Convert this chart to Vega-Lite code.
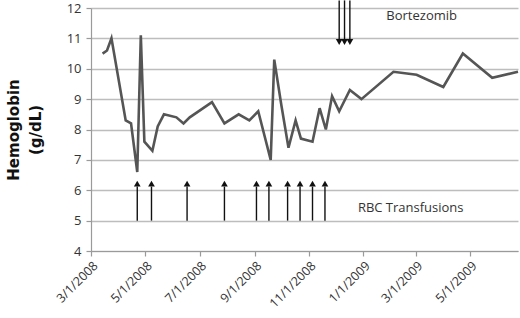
{
  "$schema": "https://vega.github.io/schema/vega-lite/v6.json",
  "width": 427,
  "height": 243,
  "autosize": "none",
  "padding": {"left": 91, "top": 8, "right": 2, "bottom": 67},
  "background": "white",
  "config": {
    "view": {"stroke": null},
    "font": "Open Sans",
    "axis": {"labelFont": "Open Sans", "titleFont": "DejaVu Sans", "labelColor": "#333333", "domainColor": "#9a9a9a", "tickColor": "#9a9a9a", "gridColor": "#bdbdbd", "gridWidth": 1.3, "domainWidth": 1.2, "tickWidth": 1.2},
    "axisY": {
      "titleFontSize": 15,
      "titleFontWeight": "bold",
      "titleColor": "#111111",
      "titlePadding": 23,
      "titleLineHeight": 22,
      "labelOverlap": false,
      "labelFontSize": 13,
      "labelColor": "#333333",
      "tickSize": 5,
      "labelPadding": 5,
      "grid": true
    }
  },
  "datasets": {
    "hb": [
      {"date": "2008-03-14T00:00:00", "hb": 10.5},
      {"date": "2008-03-19T00:00:00", "hb": 10.6},
      {"date": "2008-03-24T00:00:00", "hb": 11.0},
      {"date": "2008-04-09T00:00:00", "hb": 8.3},
      {"date": "2008-04-15T00:00:00", "hb": 8.2},
      {"date": "2008-04-22T00:00:00", "hb": 6.6},
      {"date": "2008-04-26T00:00:00", "hb": 11.1},
      {"date": "2008-04-30T00:00:00", "hb": 7.6},
      {"date": "2008-05-09T00:00:00", "hb": 7.3},
      {"date": "2008-05-15T00:00:00", "hb": 8.1},
      {"date": "2008-05-22T00:00:00", "hb": 8.5},
      {"date": "2008-06-05T00:00:00", "hb": 8.4},
      {"date": "2008-06-13T00:00:00", "hb": 8.2},
      {"date": "2008-06-20T00:00:00", "hb": 8.4},
      {"date": "2008-07-15T00:00:00", "hb": 8.9},
      {"date": "2008-07-29T00:00:00", "hb": 8.2},
      {"date": "2008-08-14T00:00:00", "hb": 8.5},
      {"date": "2008-08-26T00:00:00", "hb": 8.3},
      {"date": "2008-09-05T00:00:00", "hb": 8.6},
      {"date": "2008-09-19T00:00:00", "hb": 7.0},
      {"date": "2008-09-23T00:00:00", "hb": 10.3},
      {"date": "2008-10-01T00:00:00", "hb": 8.8},
      {"date": "2008-10-09T00:00:00", "hb": 7.4},
      {"date": "2008-10-17T00:00:00", "hb": 8.3},
      {"date": "2008-10-23T00:00:00", "hb": 7.7},
      {"date": "2008-11-05T00:00:00", "hb": 7.6},
      {"date": "2008-11-13T00:00:00", "hb": 8.7},
      {"date": "2008-11-20T00:00:00", "hb": 8.0},
      {"date": "2008-11-27T00:00:00", "hb": 9.1},
      {"date": "2008-12-05T00:00:00", "hb": 8.6},
      {"date": "2008-12-17T00:00:00", "hb": 9.3},
      {"date": "2008-12-30T00:00:00", "hb": 9.0},
      {"date": "2009-02-04T00:00:00", "hb": 9.9},
      {"date": "2009-03-02T00:00:00", "hb": 9.8},
      {"date": "2009-04-01T00:00:00", "hb": 9.4},
      {"date": "2009-04-23T00:00:00", "hb": 10.5},
      {"date": "2009-05-26T00:00:00", "hb": 9.7},
      {"date": "2009-06-24T00:00:00", "hb": 9.9}
    ],
    "rbc": [
      {"date": "2008-04-22T00:00:00"},
      {"date": "2008-05-08T00:00:00"},
      {"date": "2008-06-17T00:00:00"},
      {"date": "2008-07-29T00:00:00"},
      {"date": "2008-09-03T00:00:00"},
      {"date": "2008-09-17T00:00:00"},
      {"date": "2008-10-08T00:00:00"},
      {"date": "2008-10-22T00:00:00"},
      {"date": "2008-11-05T00:00:00"},
      {"date": "2008-11-19T00:00:00"}
    ],
    "btz": [
      {"date": "2008-12-05T00:00:00"},
      {"date": "2008-12-11T00:00:00"},
      {"date": "2008-12-17T00:00:00"}
    ],
    "notes": [
      {"date": "2009-01-27T00:00:00", "v": 11.75, "label": "Bortezomib"},
      {"date": "2008-12-26T00:00:00", "v": 5.42, "label": "RBC Transfusions"}
    ]
  },
  "encoding": {
    "x": {
      "field": "date", "type": "temporal",
      "scale": {"domain": [{"year": 2008, "month": 3, "date": 1}, {"year": 2009, "month": 6, "date": 24}]},
      "axis": {
        "title": null,
        "format": "%-m/%-d/%Y",
        "values": [
          {"year": 2008, "month": 3, "date": 1},
          {"year": 2008, "month": 5, "date": 1},
          {"year": 2008, "month": 7, "date": 1},
          {"year": 2008, "month": 9, "date": 1},
          {"year": 2008, "month": 11, "date": 1},
          {"year": 2009, "month": 1, "date": 1},
          {"year": 2009, "month": 3, "date": 1},
          {"year": 2009, "month": 5, "date": 1}
        ],
        "labelAngle": -45,
        "labelFontSize": 12.5,
        "labelColor": "#333333",
        "tickSize": 5,
        "grid": false,
        "labelPadding": 3
      }
    }
  },
  "layer": [
    {
      "data": {"name": "hb"},
      "mark": {"type": "line", "color": "#555555", "strokeWidth": 2.6, "clip": false},
      "encoding": {
        "y": {
          "field": "hb", "type": "quantitative",
          "scale": {"domain": [4, 12], "nice": false, "zero": false},
          "axis": {"title": ["Hemoglobin", "(g/dL)"], "values": [4, 5, 6, 7, 8, 9, 10, 11, 12]}
        }
      }
    },
    {
      "data": {"name": "rbc"},
      "mark": {"type": "rule", "color": "#111111", "strokeWidth": 1.4},
      "encoding": {
        "y": {"datum": 5, "type": "quantitative", "axis": {"title": ["Hemoglobin", "(g/dL)"], "values": [4, 5, 6, 7, 8, 9, 10, 11, 12]}},
        "y2": {"datum": 6.12}
      }
    },
    {
      "data": {"name": "rbc"},
      "mark": {"type": "point", "shape": "triangle-up", "filled": true, "color": "#111111", "size": 45, "opacity": 1},
      "encoding": {
        "y": {"datum": 6.22, "type": "quantitative", "axis": {"title": ["Hemoglobin", "(g/dL)"], "values": [4, 5, 6, 7, 8, 9, 10, 11, 12]}}
      }
    },
    {
      "data": {"name": "btz"},
      "mark": {"type": "rule", "color": "#111111", "strokeWidth": 1.4},
      "encoding": {
        "y": {"datum": 12.25, "type": "quantitative", "axis": {"title": ["Hemoglobin", "(g/dL)"], "values": [4, 5, 6, 7, 8, 9, 10, 11, 12]}},
        "y2": {"datum": 10.98}
      }
    },
    {
      "data": {"name": "btz"},
      "mark": {"type": "point", "shape": "triangle-down", "filled": true, "color": "#111111", "size": 45, "opacity": 1},
      "encoding": {
        "y": {"datum": 10.88, "type": "quantitative", "axis": {"title": ["Hemoglobin", "(g/dL)"], "values": [4, 5, 6, 7, 8, 9, 10, 11, 12]}}
      }
    },
    {
      "data": {"name": "notes"},
      "mark": {"type": "text", "align": "left", "baseline": "middle", "fontSize": 13, "color": "#333333", "font": "Open Sans"},
      "encoding": {
        "y": {"field": "v", "type": "quantitative", "axis": {"title": ["Hemoglobin", "(g/dL)"], "values": [4, 5, 6, 7, 8, 9, 10, 11, 12]}},
        "text": {"field": "label"}
      }
    }
  ]
}
